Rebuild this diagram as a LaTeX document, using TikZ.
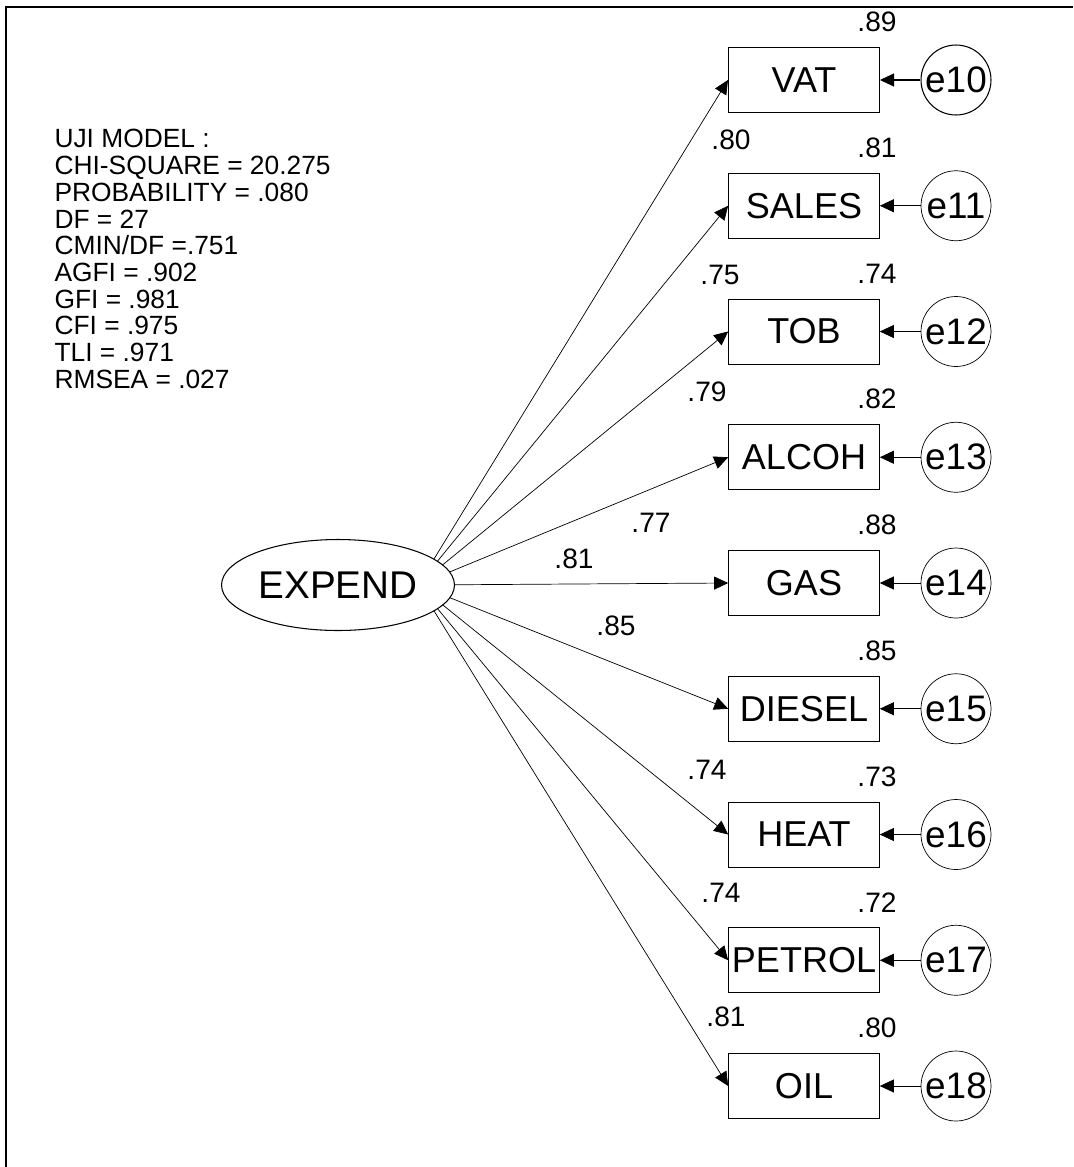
\documentclass[tikz,border=0pt]{standalone}
\usepackage{fontspec}
\setmainfont{Liberation Sans}
\usetikzlibrary{arrows.meta,shapes.geometric,backgrounds}

\begin{document}
\begin{tikzpicture}[x=0.02cm, y=-0.02cm, >={Triangle[length=2.8mm, width=2.6mm]}, line width=0.6pt,
	obs/.style={draw, rectangle, minimum width=3.02cm, minimum height=1.3cm, inner sep=0pt, font=\fontsize{20.5}{24}\selectfont},
	lat/.style={draw, ellipse, fill=white, minimum width=4.66cm, minimum height=1.82cm, inner sep=0pt, font=\fontsize{22}{26}\selectfont},
	err/.style={draw, circle, minimum size=1.4cm, inner sep=0pt, font=\fontsize{21}{25}\selectfont},
	est/.style={inner sep=0pt, font=\fontsize{16}{18}\selectfont}]
	\useasboundingbox (0,0) rectangle (1073,1167);
	\draw[line width=1pt] (6,1167) -- (6,7) -- (1073,7);
	\node[anchor=north west, inner sep=0pt, align=left, font=\fontsize{15}{15.2}\selectfont] (fit) at (54,129) {UJI MODEL :\\CHI-SQUARE = 20.275\\PROBABILITY = .080\\DF = 27\\CMIN/DF =.751\\AGFI = .902\\GFI = .981\\CFI = .975\\TLI = .971\\RMSEA = .027};
	\node[lat] (EXPEND) at (338,585) {EXPEND};
	\coordinate (fan) at (418,585);
	% indicators, errors, R2 and loadings
	\foreach \n/\e/\r/\lo/\lx/\ly [count=\i from 0] in {VAT/e10/.89/.80/731/140, SALES/e11/.81/.75/720/275, TOB/e12/.74/.79/707/392, ALCOH/e13/.82/.77/651/523, GAS/e14/.88/.81/574/559, DIESEL/e15/.85/.85/616/626, HEAT/e16/.73/.74/707/770, PETROL/e17/.72/.74/721/893, OIL/e18/.80/.81/726/1017} {
		\pgfmathsetmacro{\y}{80+125.75*\i}
		\node[obs] (\n) at (804,\y) {\n};
		\node[err] (\e) at (956,\y) {\e};
		\node[est] (r\n) at (877,\y-58) {\r};
		\node[est] (l\n) at (\lx,\ly) {\lo};
		\draw[->] (\e) -- (\n);
		\begin{pgfonlayer}{background}
			\draw[->] (fan) -- (\n.west);
		\end{pgfonlayer}
	}
\end{tikzpicture}
\end{document}
